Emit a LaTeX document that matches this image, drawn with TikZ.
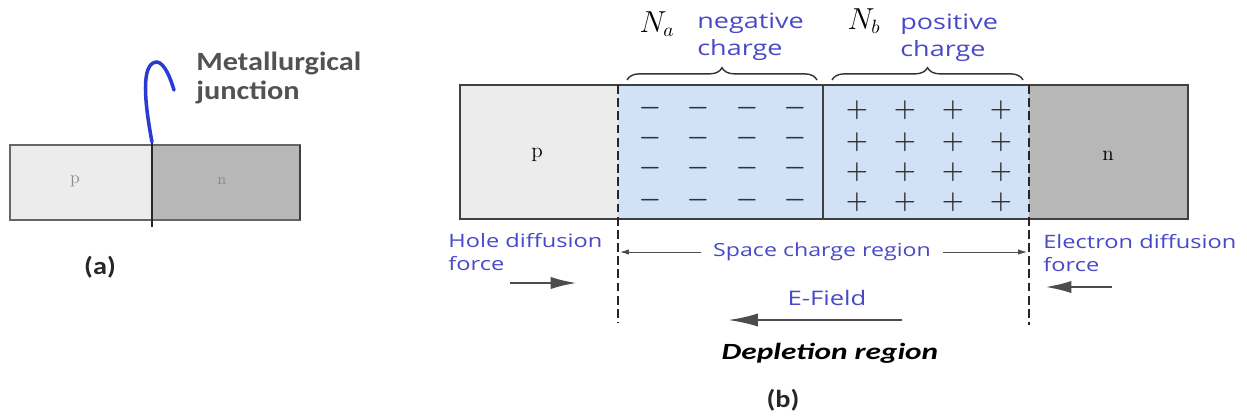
\documentclass[tikz,border=0pt]{standalone}
\usepackage{fontspec}
\usepackage{amsmath}
\usetikzlibrary{arrows.meta, decorations.pathreplacing, calc}
\newfontfamily\bluefont[FakeStretch=1.28]{Open Sans}
\newfontfamily\calfont[FakeStretch=1.15]{Carlito}
\newfontfamily\depfont[FakeStretch=1.35]{Carlito}
\definecolor{lblblue}{RGB}{72,72,200}
\definecolor{hookblue}{RGB}{40,60,210}
\definecolor{depblue}{RGB}{210,226,246}
\definecolor{pgray}{RGB}{236,236,236}
\definecolor{ngray}{RGB}{183,183,183}
\begin{document}
\begin{tikzpicture}[x=0.02cm,y=-0.02cm,
  lbl/.style={text=lblblue, align=left, inner sep=0pt, anchor=west},
  chg/.style={font=\fontsize{14}{14}\selectfont\boldmath, text=black!80, inner sep=0pt},
  dashedge/.style={dash pattern=on 5pt off 2.5pt, line width=1.1pt, draw=black!85},
  thin arrow/.style={draw=black!70, line width=0.5pt, -{Latex[length=5pt,width=3pt]}},
  force arrow/.style={draw=black!70, line width=1.5pt, -{Latex[length=15pt,width=7pt]}}]
\useasboundingbox (0,0) rectangle (1247,417);

% (a) the bar with the junction
\filldraw[fill=pgray, draw=black!60, line width=0.8pt] (10,145) rectangle (152,220);
\filldraw[fill=ngray, draw=black!60, line width=0.8pt] (152,145) rectangle (300,220);
\draw[black!75, line width=1.4pt] (300,145) -- (300,220);
\coordinate (jtop) at (152,142);
\coordinate (jbot) at (152,227);
\draw[black!85, line width=1.3pt] (jtop) -- (jbot);
\node[font=\fontsize{10}{10}\selectfont, text=black!45] (pA) at (75,181) {p};
\node[font=\fontsize{9}{9}\selectfont, text=black!45] (nA) at (222,181) {n};
\draw[hookblue, line width=2pt, line cap=round] (jtop) .. controls (145,105) and (140,62) .. (157,62)
  .. controls (165,63) and (171,80) .. (174,90);
\node[font=\calfont\bfseries\fontsize{15}{16.5}\selectfont, text=black!68, align=left, inner sep=0pt, anchor=west]
  (mj) at (196,78) {Metallurgical\\junction};
\node[font=\calfont\bfseries\fontsize{14}{14}\selectfont, text=black!85] (capa) at (100,267) {(a)};

% (b) depletion region
\fill[pgray] (460,85) rectangle (618,219);
\fill[depblue] (618,85) rectangle (1029,219);
\fill[ngray] (1029,85) rectangle (1188,219);
\draw[black!75, line width=0.9pt] (460,85) rectangle (1188,219);
\draw[black!75, line width=0.9pt] (823,85) -- (823,219);
\coordinate (lt) at (618,85);
\coordinate (lb) at (618,323);
\coordinate (rt) at (1029,85);
\coordinate (rb) at (1029,325);
\draw[dashedge, line width=0.8pt] (lt) -- (lb);
\draw[dashedge] (rt) -- (rb);
\node[font=\fontsize{12}{12}\selectfont] (pB) at (537,155) {p};
\node[font=\fontsize{12}{12}\selectfont] (nB) at (1108,156) {n};

% charges
\foreach \x [count=\i] in {650,698,747,795}
  \foreach \y [count=\j] in {108,138,168,200}
    \node[chg] (minus\i\j) at (\x,\y) {$-$};
\foreach \x [count=\i] in {857,905,953,1001}
  \foreach \y [count=\j] in {110,142,172,202}
    \node[chg] (plus\i\j) at (\x,\y) {$+$};

% braces and densities
\draw[black!80, line width=0.8pt, decorate, decoration={brace, amplitude=7pt}] (627,80) -- (817,80);
\draw[black!80, line width=0.8pt, decorate, decoration={brace, amplitude=7pt}] (832,80) -- (1023,80);
\node[font=\fontsize{16}{16}\selectfont] (Nacc) at (657,24) {$N_a$};
\node[lbl, font=\bluefont\fontsize{12}{15.3}\selectfont] (negc) at (697,37) {negative\\charge};
\node[font=\fontsize{16}{16}\selectfont] (Ndon) at (864,21) {$N_b$};
\node[lbl, font=\bluefont\fontsize{12}{15.3}\selectfont] (posc) at (900,38) {positive\\charge};

% forces below
\node[lbl, font=\bluefont\fontsize{10.5}{13}\selectfont] (holef) at (448,252) {Hole diffusion\\force};
\node[lbl, font=\bluefont\fontsize{10.5}{13}\selectfont] (elecf) at (1043,253) {Electron diffusion\\force};
\node[font=\bluefont\fontsize{10.3}{12}\selectfont, text=lblblue, inner ysep=0pt, inner xsep=0.24cm]
  (scr) at (822,252) {Space charge region};
\coordinate (scl) at (620,252);
\coordinate (scrr) at (1027,252);
\draw[thin arrow] (scr.west) -- (scl);
\draw[thin arrow] (scr.east) -- (scrr);
\coordinate (h0) at (510,283);
\coordinate (h1) at (577,283);
\draw[force arrow] (h0) -- (h1);
\coordinate (e0) at (1112,287);
\coordinate (e1) at (1045,287);
\draw[force arrow] (e0) -- (e1);
\node[font=\bluefont\fontsize{11.4}{12}\selectfont, text=lblblue] (ef) at (827,298) {E-Field};
\coordinate (f0) at (902,320);
\coordinate (f1) at (728,320);
\draw[force arrow, line width=1.4pt, -{Latex[length=17pt,width=7.5pt]}] (f0) -- (f1);
\node[font=\depfont\bfseries\itshape\fontsize{13.2}{14}\selectfont] (dep) at (830,353) {Depletion region};
\node[font=\calfont\bfseries\fontsize{14}{14}\selectfont, text=black!85] (capb) at (783,400) {(b)};
\end{tikzpicture}
\end{document}
